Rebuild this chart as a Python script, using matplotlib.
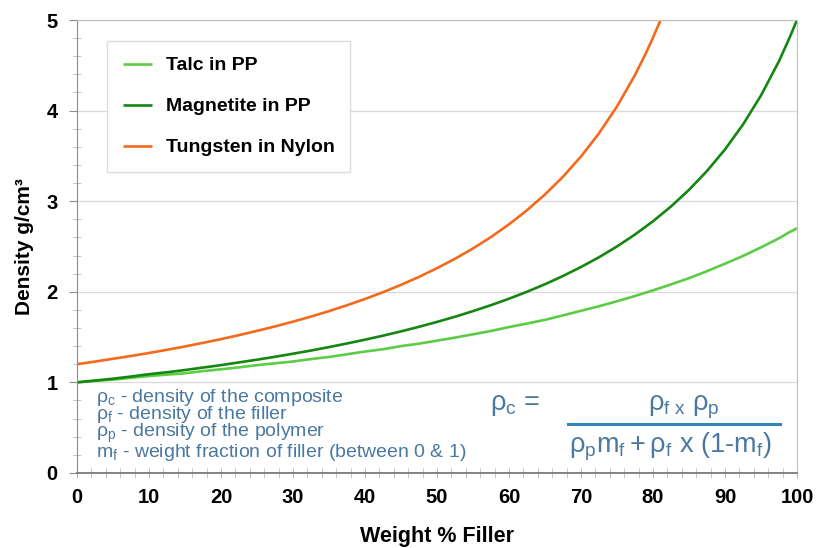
import matplotlib
matplotlib.use("Agg")
import matplotlib.pyplot as plt
from matplotlib.ticker import MultipleLocator

plt.rcParams["font.family"] = ["Liberation Sans", "DejaVu Sans"]
plt.rcParams["mathtext.fontset"] = "custom"
plt.rcParams["mathtext.rm"] = "Liberation Sans"
plt.rcParams["mathtext.it"] = "Liberation Sans"

# weight % filler and density (g/cm3)
pct = [0, 2.5, 5, 7.5, 10, 12.5, 15, 17.5, 20, 22.5, 25, 27.5, 30, 32.5, 35, 37.5, 40, 42.5,
       45, 47.5, 50, 52.5, 55, 57.5, 60, 62.5, 65, 67.5, 70, 72.5, 75, 77.5, 80, 82.5, 85,
       87.5, 90, 92.5, 95, 97.5, 99, 100]
talc = [1.00, 1.016, 1.03, 1.05, 1.07, 1.085, 1.10, 1.124, 1.144, 1.165, 1.19, 1.21, 1.23,
        1.257, 1.28, 1.31, 1.34, 1.365, 1.40, 1.427, 1.46, 1.494, 1.53, 1.567, 1.61, 1.649,
        1.69, 1.739, 1.79, 1.84, 1.895, 1.953, 2.015, 2.081, 2.15, 2.227, 2.31, 2.395, 2.49,
        2.59, 2.66, 2.70]
magnetite = [1.00, 1.02, 1.04, 1.064, 1.09, 1.111, 1.136, 1.163, 1.19, 1.22, 1.25, 1.282,
             1.316, 1.351, 1.389, 1.429, 1.471, 1.515, 1.5625, 1.613, 1.667, 1.724, 1.786,
             1.852, 1.923, 2.00, 2.083, 2.174, 2.273, 2.381, 2.50, 2.632, 2.778, 2.941, 3.125,
             3.333, 3.571, 3.846, 4.167, 4.545, 4.81, 5.00]
pct_w = [0, 2.5, 5, 7.5, 10, 12.5, 15, 17.5, 20, 22.5, 25, 27.5, 30, 32.5, 35, 37.5, 40, 42.5,
         45, 47.5, 50, 52.5, 55, 57.5, 60, 62.5, 65, 67.5, 70, 72.5, 75, 77.5, 79, 80, 81]
tungsten = [1.20, 1.229, 1.26, 1.291, 1.324, 1.359, 1.396, 1.436, 1.477, 1.521, 1.568, 1.617,
            1.67, 1.726, 1.786, 1.851, 1.92, 1.995, 2.076, 2.164, 2.26, 2.364, 2.478, 2.604,
            2.744, 2.90, 3.074, 3.27, 3.493, 3.749, 4.045, 4.393, 4.631, 4.805, 4.99]

series = [
    ("Talc in PP", pct, talc, "#5ccc45"),
    ("Magnetite in PP", pct, magnetite, "#13870f"),
    ("Tungsten in Nylon", pct_w, tungsten, "#f46a1c"),
]

blue = "#4a78a0"

fig = plt.figure(figsize=(8.17, 5.48), dpi=100)
ax = fig.add_axes([0.0942, 0.137, 0.8813, 0.8265])

for label, xs, ys, color in series:
    ax.plot(xs, ys, color=color, lw=1.9, label=label, solid_capstyle="butt")

ax.set_xlim(0, 100)
ax.set_ylim(0, 5)
ax.xaxis.set_major_locator(MultipleLocator(10))
ax.xaxis.set_minor_locator(MultipleLocator(2))
ax.yaxis.set_major_locator(MultipleLocator(1))
ax.yaxis.set_minor_locator(MultipleLocator(0.2))
ax.grid(axis="y", which="major", color="#dcdcdc", lw=1)
ax.set_axisbelow(True)

for side in ["top", "right"]:
    ax.spines[side].set_color("#c0c0c0")
ax.spines["left"].set_color("#8c8c8c")
ax.spines["bottom"].set_color("#7a7a7a")
ax.spines["bottom"].set_linewidth(1.3)

ax.tick_params(axis="y", which="major", direction="out", length=6, color="#8c8c8c",
               labelsize=14.5, pad=8)
ax.tick_params(axis="y", which="minor", direction="inout", length=6, color="#bbbbbb")
ax.tick_params(axis="x", which="both", direction="inout", length=7, color="#bbbbbb",
               labelsize=14.5, pad=7)
for lbl in ax.get_xticklabels() + ax.get_yticklabels():
    lbl.set_fontweight("bold")

ax.set_xlabel("Weight % Filler", fontsize=15.5, fontweight="bold", labelpad=14)
ax.set_ylabel("Density g/cm³", fontsize=15, fontweight="bold", labelpad=9)

leg = ax.legend(loc="upper left", bbox_to_anchor=(0.042, 0.953),
                prop={"weight": "bold", "size": 14}, handlelength=1.5, handletextpad=0.7,
                labelspacing=1.2, borderpad=0.8, fancybox=False, framealpha=1,
                edgecolor="#dddddd", borderaxespad=0)
leg.get_frame().set_linewidth(1)

notes = ("$\\mathregular{\\rho_c}$ - density of the composite\n"
         "$\\mathregular{\\rho_f}$ - density of the filler\n"
         "$\\mathregular{\\rho_p}$ - density of the polymer\n"
         "$\\mathregular{m_f}$ - weight fraction of filler (between 0 & 1)")
ax.text(0.027, 0.022, notes, transform=ax.transAxes, fontsize=14, color=blue,
        va="bottom", ha="left", linespacing=0.78)

ax.text(0.574, 0.15, "$\\mathregular{\\rho_c}$ =", transform=ax.transAxes,
        fontsize=19.5, color=blue, ha="left", va="center")
ax.text(0.843, 0.145, "$\\mathregular{\\rho_{f\\ x}\\ \\rho_p}$", transform=ax.transAxes,
        fontsize=19.5, color=blue, ha="center", va="center")
ax.text(0.824, 0.058, "$\\mathregular{\\rho_p m_f + \\rho_f\\ x\\ (1\\text{-}m_f)}$",
        transform=ax.transAxes, fontsize=19.5, color=blue, ha="center", va="center")
ax.plot([0.682, 0.976], [0.107, 0.107], transform=ax.transAxes, color="#2f86b8", lw=2.2)

fig.savefig("out.png", dpi=100)
